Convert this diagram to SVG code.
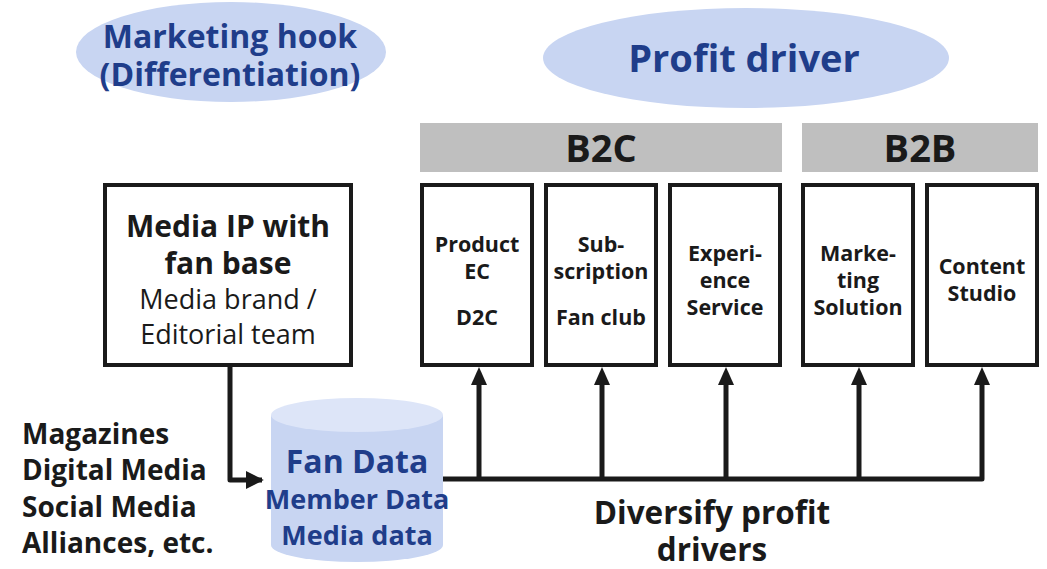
<svg xmlns="http://www.w3.org/2000/svg" width="1047" height="569" viewBox="0 0 1047 569">
  <style>
    text { font-family: "Open Sans", "Noto Sans", "Liberation Sans", sans-serif; text-anchor: middle; }
    .hook { fill: #c8d5f2; }
    .navy { fill: #1f3d8a; font-weight: bold; }
    .bar { fill: #bfbfbf; }
    .box { fill: #ffffff; stroke: #1a1a1a; stroke-width: 4; }
    .lbl { fill: #1a1a1a; font-weight: bold; font-size: 21.5px; }
    .big { fill: #1a1a1a; font-weight: bold; }
    .conn { fill: none; stroke: #1a1a1a; stroke-width: 5; stroke-linejoin: round; stroke-linecap: butt; }
  </style>
  <defs>
    <marker id="arrow" viewBox="0 0 10 10" refX="9" refY="5" markerWidth="3.6" markerHeight="3.6" orient="auto" markerUnits="strokeWidth">
      <path d="M0,0 L10,5 L0,10 Z" fill="#1a1a1a"/>
    </marker>
  </defs>

  <!-- headline ellipses -->
  <g id="marketing-hook">
    <ellipse class="hook" cx="231" cy="52" rx="155" ry="50"/>
    <text class="navy" x="230" y="48" font-size="32">Marketing hook</text>
    <text class="navy" x="230" y="86" font-size="32">(Differentiation)</text>
  </g>
  <g id="profit-driver">
    <ellipse class="hook" cx="746" cy="58" rx="203" ry="50"/>
    <text class="navy" x="744" y="72" font-size="38">Profit driver</text>
  </g>

  <!-- category bars -->
  <g id="b2c">
    <rect class="bar" x="420" y="123" width="362" height="49"/>
    <text class="big" x="601" y="162" font-size="38">B2C</text>
  </g>
  <g id="b2b">
    <rect class="bar" x="802" y="123" width="236" height="49"/>
    <text class="big" x="920" y="162" font-size="38">B2B</text>
  </g>

  <!-- source node -->
  <g id="media-ip">
    <rect class="box" x="105" y="185" width="246" height="180"/>
    <text class="big" x="228" y="237" font-size="30">Media IP with</text>
    <text class="big" x="228" y="274" font-size="30">fan base</text>
    <text x="228" y="309" font-size="27" fill="#1a1a1a">Media brand /</text>
    <text x="228" y="344" font-size="27" fill="#1a1a1a">Editorial team</text>
  </g>

  <!-- revenue nodes -->
  <g id="product-ec">
    <rect class="box" x="422" y="185" width="110" height="180"/>
    <text class="lbl" x="477" y="252">Product</text>
    <text class="lbl" x="477" y="279">EC</text>
    <text class="lbl" x="477" y="325">D2C</text>
  </g>
  <g id="subscription">
    <rect class="box" x="546" y="185" width="110" height="180"/>
    <text class="lbl" x="601" y="252">Sub-</text>
    <text class="lbl" x="601" y="279">scription</text>
    <text class="lbl" x="601" y="325">Fan club</text>
  </g>
  <g id="experience">
    <rect class="box" x="670" y="185" width="110" height="180"/>
    <text class="lbl" x="725" y="261">Experi-</text>
    <text class="lbl" x="725" y="288">ence</text>
    <text class="lbl" x="725" y="315">Service</text>
  </g>
  <g id="marketing-solution">
    <rect class="box" x="803" y="185" width="110" height="180"/>
    <text class="lbl" x="858" y="261">Marke-</text>
    <text class="lbl" x="858" y="288">ting</text>
    <text class="lbl" x="858" y="315">Solution</text>
  </g>
  <g id="content-studio">
    <rect class="box" x="927" y="185" width="110" height="180"/>
    <text class="lbl" x="982" y="274">Content</text>
    <text class="lbl" x="982" y="301">Studio</text>
  </g>

  <!-- data store -->
  <g id="fan-data">
    <path d="M271,415 L271,545 A86,17 0 0 0 443,545 L443,415 Z" fill="#c8d5f2"/>
    <ellipse cx="357" cy="415" rx="86" ry="17" fill="#dde5f8"/>
    <text class="navy" x="357" y="473" font-size="32">Fan Data</text>
    <text class="navy" x="357" y="509" font-size="27">Member Data</text>
    <text class="navy" x="357" y="545" font-size="27">Media data</text>
  </g>

  <!-- channel list -->
  <g id="channels" font-weight="bold" font-size="28" fill="#1a1a1a">
    <text x="22" y="444" style="text-anchor:start">Magazines</text>
    <text x="22" y="480" style="text-anchor:start">Digital Media</text>
    <text x="22" y="517" style="text-anchor:start">Social Media</text>
    <text x="22" y="553" style="text-anchor:start">Alliances, etc.</text>
  </g>

  <g id="diversify">
    <text class="big" x="712" y="524" font-size="31.5">Diversify profit</text>
    <text class="big" x="712" y="561" font-size="31.5">drivers</text>
  </g>

  <!-- connectors -->
  <g id="connectors">
    <path class="conn" d="M230,366 L230,480 L262,480" marker-end="url(#arrow)"/>
    <path class="conn" d="M443,479 L982,479 L982,380"/>
    <path class="conn" d="M479,479 L479,380"/>
    <path class="conn" d="M602,479 L602,380"/>
    <path class="conn" d="M726,479 L726,380"/>
    <path class="conn" d="M859,479 L859,380"/>
    <g fill="#1a1a1a">
      <path d="M479,367 L471,385 L487,385 Z"/>
      <path d="M602,367 L594,385 L610,385 Z"/>
      <path d="M726,367 L718,385 L734,385 Z"/>
      <path d="M859,367 L851,385 L867,385 Z"/>
      <path d="M982,367 L974,385 L990,385 Z"/>
    </g>
  </g>
</svg>
